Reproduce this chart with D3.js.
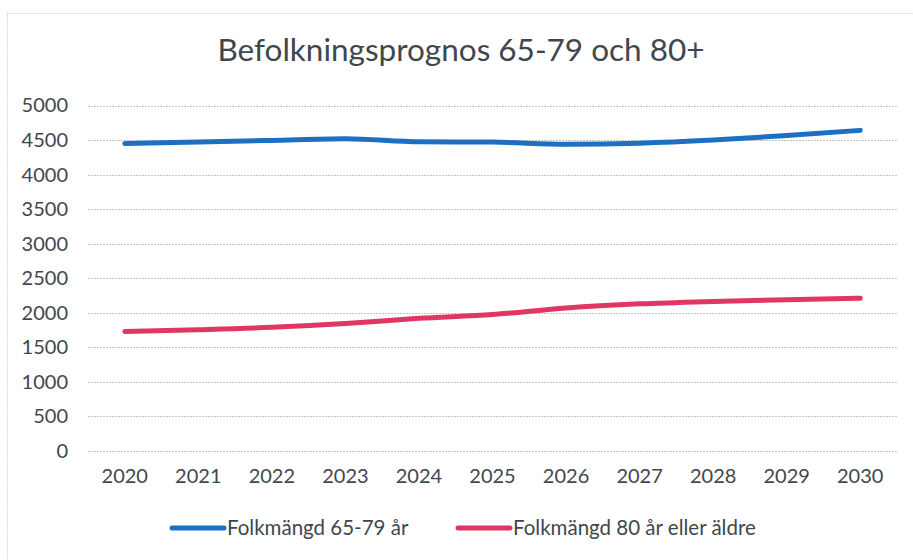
<!DOCTYPE html>
<html>
<head>
<meta charset="utf-8">
<script src="https://cdn.jsdelivr.net/npm/d3@7"></script>
<style>
  body { margin: 0; background: #fff; }
  text { font-family: Lato, "Open Sans", sans-serif; fill: #3f474e; }
</style>
</head>
<body>
<div id="chart"></div>
<script>
// data
var years = ["2020", "2021", "2022", "2023", "2024", "2025", "2026", "2027", "2028", "2029", "2030"];
var age6579 = [4450, 4470, 4495, 4520, 4475, 4470, 4440, 4455, 4500, 4565, 4640];
var age80 = [1730, 1756, 1790, 1845, 1920, 1975, 2070, 2130, 2165, 2190, 2212];
var yTicks = [0, 500, 1000, 1500, 2000, 2500, 3000, 3500, 4000, 4500, 5000];
var seriesNames = ["Folkmängd 65-79 år", "Folkmängd 80 år eller äldre"];
var colors = ["#1c6fc2", "#e03663"];

var width = 913, height = 560;
var plotLeft = 88, plotRight = 897, plotTop = 105.5, plotBottom = 451;

var svg = d3.select("#chart").append("svg")
    .attr("width", width)
    .attr("height", height);

// faint frame of the chart area
svg.append("rect")
    .attr("x", 7.5).attr("y", 13.5)
    .attr("width", 940).attr("height", 600)
    .attr("fill", "none")
    .attr("stroke", "#d6d6d6")
    .attr("stroke-dasharray", "2,1");

var x = d3.scaleBand().domain(years).range([plotLeft, plotRight]);
var y = d3.scaleLinear().domain([0, 5000]).range([plotBottom, plotTop]);

// gridlines
svg.append("g")
    .selectAll("line")
    .data(yTicks)
    .enter()
    .append("line")
    .attr("x1", plotLeft).attr("x2", plotRight)
    .attr("y1", function(d) { return Math.round(y(d)) + 0.5; })
    .attr("y2", function(d) { return Math.round(y(d)) + 0.5; })
    .attr("stroke", "#c4c4c4")
    .attr("stroke-dasharray", "2,1");

// y axis labels
var yAxis = d3.axisLeft(y).tickValues(yTicks).tickFormat(d3.format("d")).tickSize(0).tickPadding(0);
var gy = svg.append("g")
    .attr("transform", "translate(68,0)")
    .call(yAxis);
gy.select(".domain").remove();
gy.selectAll("text").style("font-size", "20px").attr("fill", "#3f474e");

// x axis labels
var xAxis = d3.axisBottom(x).tickSize(0).tickPadding(0);
var gx = svg.append("g")
    .attr("transform", "translate(0,469)")
    .call(xAxis);
gx.select(".domain").remove();
gx.selectAll("text").style("font-size", "20px").attr("fill", "#3f474e");

// lines
var line = d3.line()
    .x(function(d, i) { return x(years[i]) + x.bandwidth() / 2; })
    .y(function(d) { return y(d); })
    .curve(d3.curveMonotoneX);

[age6579, age80].forEach(function(s, i) {
    svg.append("path")
        .datum(s)
        .attr("d", line)
        .attr("fill", "none")
        .attr("stroke", colors[i])
        .attr("stroke-width", 5)
        .attr("stroke-linecap", "round");
});

// title
svg.append("text")
    .attr("x", 461).attr("y", 61)
    .attr("text-anchor", "middle")
    .style("font-size", "31.5px")
    .text("Befolkningsprognos 65-79 och 80+");

// legend
var legendX = [172, 458];
seriesNames.forEach(function(name, i) {
    svg.append("line")
        .attr("x1", legendX[i]).attr("x2", legendX[i] + 52)
        .attr("y1", 528).attr("y2", 528)
        .attr("stroke", colors[i])
        .attr("stroke-width", 5)
        .attr("stroke-linecap", "round");
    svg.append("text")
        .attr("x", legendX[i] + 55).attr("y", 535)
        .style("font-size", "20.5px")
        .text(name);
});
</script>
</body>
</html>
